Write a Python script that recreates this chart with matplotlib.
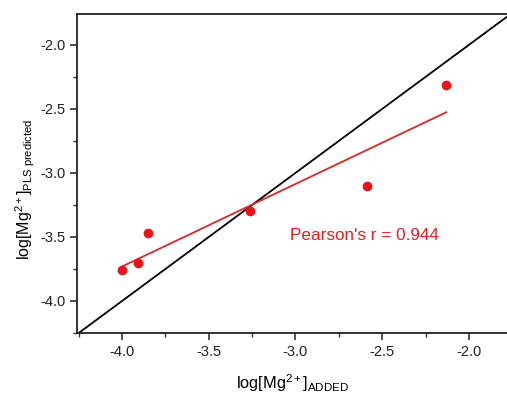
import matplotlib
matplotlib.use('Agg')
import matplotlib.pyplot as plt
import numpy as np
from matplotlib.ticker import MultipleLocator

plt.rcParams['font.family'] = ['Liberation Sans', 'DejaVu Sans']
plt.rcParams['mathtext.fontset'] = 'custom'
plt.rcParams['mathtext.rm'] = 'Liberation Sans'
plt.rcParams['mathtext.it'] = 'Liberation Sans:italic'

# data
mg_added = [-4.00, -3.91, -3.85, -3.26, -2.59, -2.13]
mg_predicted = [-3.76, -3.70, -3.47, -3.30, -3.10, -2.31]
pearson_text = "Pearson's r = 0.944"
x_limits = (-4.26, -1.78)
y_limits = (-4.25, -1.76)


def main():
    fig = plt.figure(figsize=(5.07, 3.94), dpi=100)
    ax = fig.add_axes([0.152, 0.155, 0.848, 0.809])

    ax.plot(x_limits, x_limits, color='black', lw=1.3, zorder=2)

    x = np.array(mg_added)
    y = np.array(mg_predicted)
    slope, icpt = np.polyfit(x, y, 1)
    xf = np.array([x.min(), x.max()])
    ax.plot(xf, slope * xf + icpt, color='#d42a2a', lw=1.3, zorder=3)
    ax.plot(x, y, 'o', color='#e8141c', ms=6, zorder=4)

    ax.text(-3.034, -3.49, pearson_text, color='#e02020', fontsize=12.3,
            va='center', ha='left')

    ax.set_xlim(*x_limits)
    ax.set_ylim(*y_limits)
    ax.xaxis.set_major_locator(MultipleLocator(0.5))
    ax.xaxis.set_minor_locator(MultipleLocator(0.25))
    ax.yaxis.set_major_locator(MultipleLocator(0.5))
    ax.yaxis.set_minor_locator(MultipleLocator(0.25))
    ax.xaxis.set_major_formatter(matplotlib.ticker.FormatStrFormatter('%.1f'))
    ax.yaxis.set_major_formatter(matplotlib.ticker.FormatStrFormatter('%.1f'))
    ax.tick_params(which='major', direction='out', length=5, width=1.2,
                   labelsize=10.5, color='#333333', labelcolor='#222222')
    ax.tick_params(which='minor', direction='out', length=3, width=1.0,
                   color='#333333')
    ax.spines['right'].set_visible(False)
    for s in ('left', 'bottom', 'top'):
        ax.spines[s].set_linewidth(1.3)
        ax.spines[s].set_color('#222222')

    ax.set_xlabel(r'log[Mg$^{2+}$]$_{\mathrm{ADDED}}$', fontsize=11.8,
                  labelpad=10)
    ax.set_ylabel(r'log[Mg$^{2+}$]$_{\mathrm{PLS\ predicted}}$', fontsize=11.5)
    ax.yaxis.set_label_coords(-0.093, 0.45)

    fig.savefig('out.png', dpi=100)


if __name__ == '__main__':
    main()
